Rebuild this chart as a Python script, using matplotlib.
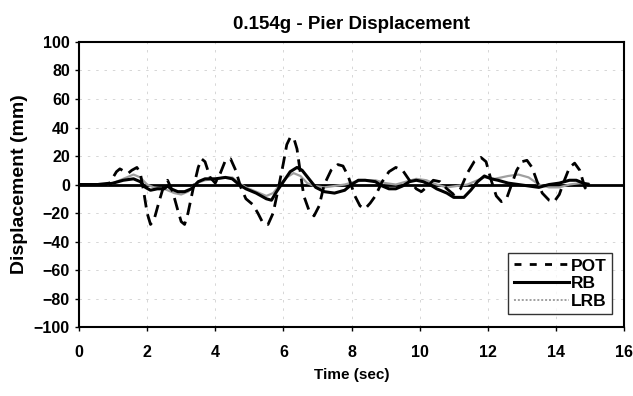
import matplotlib
matplotlib.use("Agg")
import matplotlib.pyplot as plt
from matplotlib.lines import Line2D

plt.rcParams['font.family'] = ['Liberation Sans', 'DejaVu Sans']
plt.rcParams['font.weight'] = 'bold'

# pier displacement histories (time in sec, displacement in mm)
pot_t = [0.0, 0.5, 0.9, 1.0, 1.1, 1.2, 1.35, 1.45, 1.55, 1.7, 1.8, 1.9, 2.0, 2.1, 2.2,
         2.35, 2.5, 2.6, 2.75, 2.9, 3.0, 3.1, 3.2, 3.35, 3.5, 3.6, 3.7, 3.85, 4.0, 4.15,
         4.3, 4.45, 4.6, 4.75, 4.9, 5.1, 5.25, 5.4, 5.55, 5.7, 5.85, 6.0, 6.1, 6.2, 6.3,
         6.4, 6.5, 6.6, 6.75, 6.9, 7.05, 7.2, 7.4, 7.6, 7.75, 7.9, 8.1, 8.25, 8.4, 8.55,
         8.7, 8.9, 9.1, 9.3, 9.5, 9.7, 9.9, 10.05, 10.2, 10.4, 10.6, 10.8, 11.0, 11.2,
         11.4, 11.6, 11.8, 11.95, 12.1, 12.25, 12.4, 12.55, 12.7, 12.85, 13.0, 13.15,
         13.3, 13.45, 13.6, 13.8, 13.95, 14.1, 14.25, 14.4, 14.55, 14.7, 14.85, 14.95]
pot_d = [0, 0, 1, 5, 9, 11, 9, 8, 10, 12, 8, -5, -20, -28, -25,
         -12, 0, 3, -5, -18, -26, -28, -20, -3, 12, 18, 16, 5, 1, 8,
         17, 18, 10, -2, -10, -14, -20, -27, -28, -20, -3, 15, 28, 33, 33,
         25, 8, -8, -18, -22, -15, 0, 10, 14, 13, 6, -8, -15, -17, -13,
         -8, 2, 9, 12, 10, 3, -3, -5, -2, 3, 2, -3, -7, -3,
         8, 16, 19, 16, 3, -8, -12, -10, 0, 10, 16, 17,
         12, 2, -6, -11, -12, -7, 3, 12, 15, 10, -2, -5]

rb_t = [0, 0.8, 1.0, 1.3, 1.6, 1.8, 1.95, 2.1, 2.3, 2.5, 2.6, 2.7, 2.9, 3.1, 3.3, 3.5,
        3.7, 4.0, 4.3, 4.5, 4.7, 4.9, 5.2, 5.5, 5.65, 5.8, 6.0, 6.2, 6.4, 6.55, 6.75,
        6.95, 7.2, 7.5, 7.8, 8.0, 8.2, 8.4, 8.7, 8.9, 9.1, 9.3, 9.5, 9.7, 9.9, 10.1,
        10.3, 10.5, 10.8, 11.0, 11.3, 11.5, 11.7, 11.9, 12.1, 12.3, 12.6, 12.9, 13.2,
        13.5, 13.8, 14.1, 14.4, 14.6, 14.8, 14.95]
rb_d = [0, 0, 1, 3, 4, 2, -2, -4, -3, -3, -1, -3, -5, -5, -3, 2,
        4, 4, 5, 4, 0, -3, -6, -10, -11, -5, 2, 9, 12, 10, 4,
        -2, -5, -6, -4, 0, 3, 3, 2, -1, -3, -3, -1, 2, 3, 2,
        0, -3, -6, -9, -9, -4, 2, 6, 4, 3, 1, 0, -1,
        -2, 0, 1, 3, 3, 1, 0]

lrb_t = [0, 0.8, 1.0, 1.3, 1.6, 1.8, 2.0, 2.2, 2.5, 2.8, 3.0, 3.2, 3.45, 3.7, 4.0, 4.3,
         4.5, 4.7, 4.9, 5.2, 5.5, 5.7, 5.9, 6.1, 6.3, 6.5, 6.7, 6.9, 7.2, 7.5, 7.8, 8.1,
         8.4, 8.7, 9.0, 9.3, 9.6, 9.9, 10.2, 10.5, 10.8, 11.1, 11.4, 11.7, 11.9, 12.2,
         12.6, 12.9, 13.2, 13.5, 13.8, 14.1, 14.4, 14.7, 14.95]
lrb_d = [0, 0, 1, 4, 7, 5, 0, -2, -3, -6, -7, -5, 1, 3, 4, 5,
         5, 1, -2, -5, -8, -6, 0, 5, 8, 6, 1, -1, -2, -1, 0, 2,
         3, 3, 1, 0, 2, 4, 3, 0, -2, -1, 0, 3, 5, 4,
         6, 7, 5, 0, -2, -2, 0, 1, 1]

x_ticks = list(range(0, 17, 2))
y_ticks = list(range(-100, 101, 20))

fig = plt.figure(figsize=(6.33, 3.96), dpi=100)
ax = fig.add_axes([0.1248, 0.174, 0.861, 0.72])

ax.set_xlim(0, 16)
ax.set_ylim(-100, 100)
ax.set_xticks(x_ticks)
ax.set_yticks(y_ticks)

# faint grid
for x in x_ticks[1:-1]:
    ax.axvline(x, color='#d0d0d0', lw=0.6, ls=(0, (3, 7)), zorder=0)
for y in y_ticks[1:-1]:
    ax.axhline(y, color='#d0d0d0', lw=0.6, ls=(0, (3, 7)), zorder=0)

ax.axhline(0, color='black', lw=2.0, zorder=1)

ax.plot(lrb_t, lrb_d, color='#a0a0a0', lw=1.6, zorder=2)
ax.plot(rb_t, rb_d, color='black', lw=2.2, zorder=3)
ax.plot(pot_t, pot_d, color='black', lw=2.0, ls=(0, (4.5, 2.5)), zorder=4)

for s in ax.spines.values():
    s.set_linewidth(1.5)
ax.tick_params(axis='both', direction='out', length=3, width=1, labelsize=11.5)
for lab in ax.get_xticklabels() + ax.get_yticklabels():
    lab.set_fontweight('bold')
ax.tick_params(axis='x', pad=10)

ax.set_title('0.154g - Pier Displacement', fontsize=13.5, fontweight='bold', pad=9)
ax.set_xlabel('Time (sec)', fontsize=11, fontweight='bold', labelpad=6)
ax.set_ylabel('Displacement (mm)', fontsize=14, fontweight='bold', labelpad=4)

handles = [
    Line2D([], [], color='black', lw=2.0, ls=(0, (2.5, 3))),
    Line2D([], [], color='black', lw=2.2),
    Line2D([], [], color='#a0a0a0', lw=1.4, ls=(0, (1, 1))),
]
leg = ax.legend(handles, ['POT', 'RB', 'LRB'], loc='lower right',
                bbox_to_anchor=(0.978, 0.045), frameon=True, fancybox=False,
                edgecolor='black', fontsize=12.5, handlelength=3.2,
                handletextpad=0.1, labelspacing=0.15, borderpad=0.3,
                borderaxespad=0)
leg.get_frame().set_linewidth(1.0)
for t in leg.get_texts():
    t.set_fontweight('bold')

fig.savefig('out.png', dpi=100)
